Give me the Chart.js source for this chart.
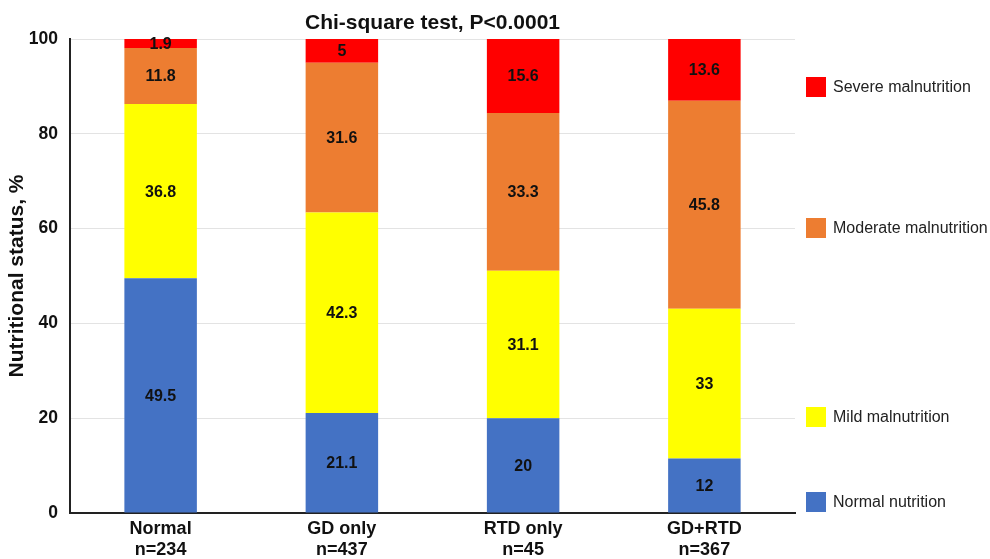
<!DOCTYPE html>
<html>
<head>
<meta charset="utf-8">
<script src="https://cdn.jsdelivr.net/npm/chart.js@4/dist/chart.umd.min.js"></script>
<style>
  html, body { margin: 0; padding: 0; background: #fff; }
  #wrap { width: 990px; height: 559px; position: relative; }
</style>
</head>
<body>
<div id="wrap"><canvas id="c" width="990" height="559"></canvas></div>
<script>
const titleText = 'Chi-square test, P<0.0001';
const yTitle = 'Nutritional status, %';
const categories = ['Normal', 'GD only', 'RTD only', 'GD+RTD'];
const sampleSizes = ['n=234', 'n=437', 'n=45', 'n=367'];
const seriesNames = ['Normal nutrition', 'Mild malnutrition', 'Moderate malnutrition', 'Severe malnutrition'];
const normalNutrition = [49.5, 21.1, 20, 12];
const mildMalnutrition = [36.8, 42.3, 31.1, 33];
const moderateMalnutrition = [11.8, 31.6, 33.3, 45.8];
const severeMalnutrition = [1.9, 5, 15.6, 13.6];
const yTicks = [0, 20, 40, 60, 80, 100];

const seriesColors = ['#4472C4', '#FFFF00', '#ED7D31', '#FF0000'];
const rawSeries = [normalNutrition, mildMalnutrition, moderateMalnutrition, severeMalnutrition];
const totals = categories.map((_, i) => rawSeries.reduce((s, arr) => s + arr[i], 0));

const FONT = "'Liberation Sans', Arial, Helvetica, sans-serif";

const datasets = rawSeries.map((arr, k) => ({
  label: seriesNames[k],
  data: arr.map((v, i) => v / totals[i] * 100),
  raw: arr,
  backgroundColor: seriesColors[k],
  borderWidth: 0,
  categoryPercentage: 1.0,
  barPercentage: 0.4
}));

const extrasPlugin = {
  id: 'extras',
  afterDatasetsDraw(chart) {
    const ctx = chart.ctx;
    ctx.save();
    ctx.fillStyle = '#111';
    ctx.font = 'bold 16px ' + FONT;
    ctx.textAlign = 'center';
    ctx.textBaseline = 'middle';
    chart.data.datasets.forEach((ds, di) => {
      const meta = chart.getDatasetMeta(di);
      meta.data.forEach((el, i) => {
        const yMid = (el.y + el.base) / 2;
        ctx.fillText(String(ds.raw[i]), el.x, yMid + 1);
      });
    });
    ctx.restore();
  },
  afterDraw(chart) {
    const ctx = chart.ctx;
    const area = chart.chartArea;
    ctx.save();
    // title
    ctx.fillStyle = '#111';
    ctx.font = 'bold 21px ' + FONT;
    ctx.textAlign = 'center';
    ctx.textBaseline = 'middle';
    ctx.fillText(titleText, (area.left + area.right) / 2, 23);
    // legend (placed beside the bars, top-to-bottom like the stack)
    const legendY = [87, 228, 417, 502];
    const order = [3, 2, 1, 0];
    ctx.font = '16px ' + FONT;
    ctx.textAlign = 'left';
    order.forEach((k, j) => {
      const cy = legendY[j];
      ctx.fillStyle = seriesColors[k];
      ctx.fillRect(806, cy - 10, 20, 20);
      ctx.fillStyle = '#222';
      ctx.fillText(seriesNames[k], 833, cy + 1);
    });
    ctx.restore();
  }
};

new Chart(document.getElementById('c'), {
  type: 'bar',
  data: {
    labels: categories.map((c, i) => [c, sampleSizes[i]]),
    datasets
  },
  options: {
    responsive: false,
    animation: false,
    layout: { padding: { left: 0, right: 195, top: 39, bottom: 0 } },
    plugins: {
      legend: { display: false },
      title: { display: false },
      tooltip: { enabled: false }
    },
    scales: {
      x: {
        stacked: true,
        grid: { display: false, drawTicks: false },
        border: { color: '#222', width: 2 },
        ticks: {
          color: '#111',
          font: { family: FONT, size: 18, weight: 'bold', lineHeight: 1.2 },
          padding: 5,
          maxRotation: 0
        },
        afterFit(scale) { scale.height = 46; }
      },
      y: {
        stacked: true,
        min: 0,
        max: 100,
        afterBuildTicks(scale) { scale.ticks = yTicks.map(v => ({ value: v })); },
        grid: { color: '#e3e3e3', lineWidth: 1, drawTicks: false },
        border: { color: '#222', width: 2 },
        ticks: {
          color: '#111',
          font: { family: FONT, size: 17.5, weight: 'bold' },
          padding: 12
        },
        title: {
          display: true,
          text: yTitle,
          color: '#111',
          font: { family: FONT, size: 21, weight: 'bold' },
          padding: { top: 5, bottom: 0 }
        },
        afterFit(scale) { scale.width = 70; }
      }
    }
  },
  plugins: [extrasPlugin]
});
</script>
</body>
</html>
